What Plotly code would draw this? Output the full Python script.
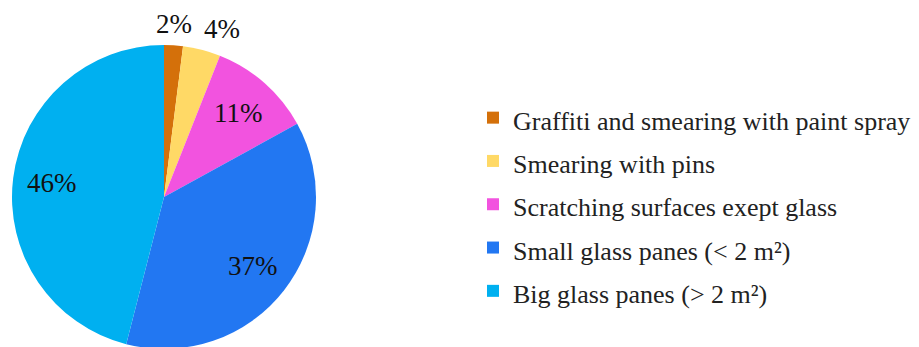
import numpy as np
import plotly.graph_objects as go

# categories and shares (%), clockwise from 12 o'clock
labels = ['Graffiti and smearing with paint spray',
          'Smearing with pins',
          'Scratching surfaces exept glass',
          'Small glass panes (< 2 m²)',
          'Big glass panes (> 2 m²)']
values = [2, 4, 11, 37, 46]
colors = ['#D4700A', '#FFD966', '#F253DF', '#2277F2', '#00B0F0']
outside = [True, True, False, False, False]

SERIF = 'Liberation Serif'

# figure / plot-area geometry (the page adds an 8px body margin)
W, H = 919, 347
ml, mr, mt, mb = 4, 0, 37, 6
pw, ph = W - ml - mr, H - mt - mb
dom_x = [0, 304 / pw]

# smaller text inside a tall legend line, to get the wide row spacing
legend_labels = ['<span style="font-size:26px">%s</span>' % s for s in labels]

fig = go.Figure(go.Pie(labels=legend_labels, values=values,
                       sort=False, direction='clockwise', rotation=0,
                       marker=dict(colors=colors, line=dict(width=0)),
                       textinfo='none', hoverinfo='label+percent',
                       domain=dict(x=dom_x, y=[0, 1])))

# percentage labels, placed along each slice's mid angle
R = min((dom_x[1] - dom_x[0]) * pw, ph) / 2
cx = (dom_x[0] + dom_x[1]) / 2
vals = np.array(values, dtype=float)
mid = (np.cumsum(vals) - vals / 2) / vals.sum() * 2 * np.pi
for v, a, out in zip(values, mid, outside):
    sx, sy = np.sin(a), np.cos(a)
    if out:
        r = R + 5
        xa = 'center' if abs(sx) < 0.1 else ('left' if sx > 0 else 'right')
        ya = 'bottom'
    else:
        r = 0.74 * R
        xa, ya = 'center', 'middle'
    fig.add_annotation(x=cx + r * sx / pw, y=0.5 + r * sy / ph,
                       xref='paper', yref='paper', text='%d%%' % v,
                       showarrow=False, xanchor=xa, yanchor=ya, borderpad=0,
                       font=dict(family=SERIF, size=27, color='#111'))

fig.update_layout(width=W, height=H,
                  margin=dict(l=ml, r=mr, t=mt, b=mb, autoexpand=False),
                  paper_bgcolor='white', plot_bgcolor='white',
                  font=dict(family=SERIF, color='#222'),
                  legend=dict(x=0.5038, y=0.8487, xanchor='left', yanchor='top',
                              font=dict(size=31, family=SERIF, color='#222'),
                              itemwidth=30))

fig.write_html("out.html")
